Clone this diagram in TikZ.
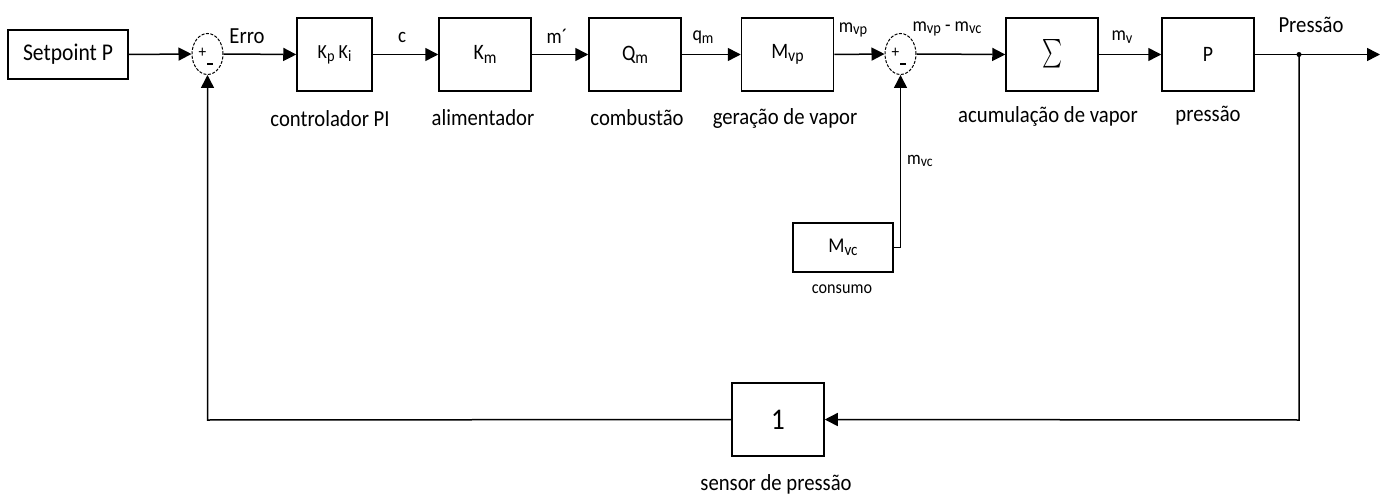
\documentclass[tikz,border=0pt]{standalone}
\usepackage{fontspec}
\setmainfont{Carlito}[FakeStretch=0.9]
\usepackage{graphicx}
\usetikzlibrary{arrows.meta,shapes.geometric}
\newcommand\sbs[1]{\raisebox{-0.3ex}{\scalebox{0.8}{#1}}}
\tikzset{
  blk/.style={draw,line width=1.5pt,minimum width=92pt,minimum height=73pt,inner sep=0pt,font=\fontsize{22}{24}\selectfont},
  sumj/.style={ellipse,draw,line width=1pt,dash pattern=on 3pt off 1.5pt,minimum width=31pt,minimum height=41pt,inner sep=0pt},
  lbl/.style={font=\fontsize{23}{26}\selectfont,inner sep=0pt},
  wlbl/.style={font=\fontsize{20}{24}\selectfont,inner sep=0pt},
  wire/.style={line width=1.5pt},
  arr/.style={line width=1.5pt,-{Triangle[length=13pt,width=13pt]}},
}
\begin{document}
\begin{tikzpicture}[x=1pt,y=-1pt]
\useasboundingbox (0,0) rectangle (1383,494);
% blocks
\node[blk,minimum width=120pt,minimum height=49pt,font=\fontsize{24}{26}\selectfont] (sp) at (68,54.5) {Setpoint P};
\node[sumj] (s1) at (207.5,54) {};
\node[blk,minimum width=75pt,font=\fontsize{20}{22}\selectfont] (kp) at (334.5,54.5) {K\sbs{p} K\sbs{i}};
\node[blk] (km) at (485,54.5) {K\sbs{m}};
\node[blk] (qm) at (635,54.5) {Q\sbs{m}};
\node[blk] (mvp) at (787.5,54.5) {M\sbs{vp}};
\node[sumj] (s2) at (900.5,54) {};
\node[blk] (sg) at (1052,54.5) {\resizebox{20pt}{29pt}{$\sum$}};
\node[blk] (pb) at (1208,54.5) {P};
\node[blk,minimum width=100pt,minimum height=49pt,font=\fontsize{21}{22}\selectfont] (mvc) at (843,247.5) {M\sbs{vc}};
\node[blk,font=\fontsize{30}{32}\selectfont] (sens) at (778,419.5) {1};
% signs in summing junctions
\foreach \s in {s1,s2}{
  \node[font=\fontsize{17}{17}\selectfont,inner sep=0pt] at ([xshift=-5pt,yshift=1pt]\s.center) {+};
  \node[inner sep=0pt] at ([xshift=2.5pt,yshift=-10pt]\s.center) {\rule{6pt}{1.2pt}};
}
% connectors
\draw[arr] (sp.east) -- (s1.west);
\draw[arr] (s1.east) -- (kp.west);
\draw[arr] (kp.east) -- (km.west);
\draw[arr] (km.east) -- (qm.west);
\draw[arr] (qm.east) -- (mvp.west);
\draw[arr] (mvp.east) -- (s2.west);
\draw[arr] (s2.east) -- (sg.west);
\draw[arr] (sg.east) -- (pb.west);
\coordinate (dot) at (1299,54.5);
\coordinate (out) at (1380,54.5);
\coordinate (fbr) at (1299,420);
\coordinate (fbl) at (207.5,420);
\coordinate (mvcc) at (900.5,247.5);
\draw[wire] (pb.east) -- (dot);
\draw[arr] (dot) -- (out);
\fill (dot) circle (2.5pt);
\draw[arr] (dot) -- (fbr) -- (sens.east);
\draw[arr] (sens.west) -- (fbl) -- (s1.south);
\draw[arr] (mvc.east) -- (mvcc) -- (s2.south);
% labels on wires
\node[lbl] at (247,36) {Erro};
\node[wlbl,font=\fontsize{21}{24}\selectfont] at (402,37) {c};
\node[wlbl,font=\fontsize{21}{24}\selectfont] at (557,36) {m´};
\node[wlbl] at (703,37) {q\sbs{m}};
\node[wlbl] at (853,30) {m\sbs{vp}};
\node[wlbl] at (947,29) {m\sbs{vp} - m\sbs{vc}};
\node[wlbl] at (1122,37) {m\sbs{v}};
\node[lbl] at (1311,25) {Pressão};
\node[wlbl,font=\fontsize{19}{22}\selectfont,anchor=west] at (907,161) {m\sbs{vc}};
% labels under blocks
\node[lbl] at (330,119) {controlador PI};
\node[lbl] at (483,118) {alimentador};
\node[lbl] at (637,118) {combustão};
\node[lbl] at (785,118) {geração de vapor};
\node[lbl] at (1048,116) {acumulação de vapor};
\node[lbl] at (1208,116) {pressão};
\node[lbl,font=\fontsize{18}{20}\selectfont] at (842,289) {consumo};
\node[lbl] at (776,484) {sensor de pressão};
\end{tikzpicture}
\end{document}
